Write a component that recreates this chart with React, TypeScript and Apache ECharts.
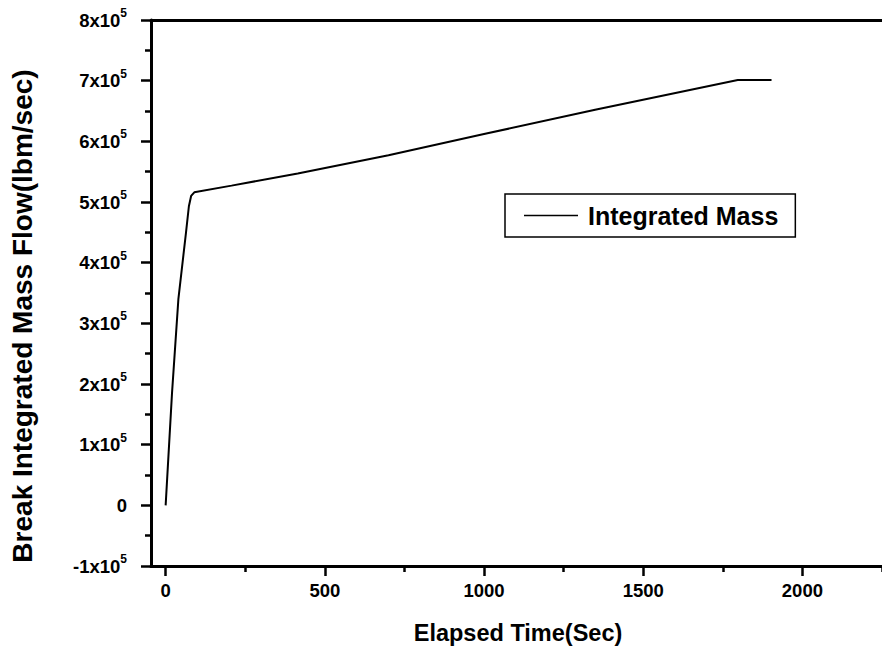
import React, { useEffect, useRef } from "react";
import * as echarts from "echarts";

// Data
const timeSec = [0, 20, 40, 64, 73, 80, 90, 207, 415, 700, 1000, 1349, 1797, 1903];
const integratedMass = [0, 185000, 340000, 450000, 493000, 510000, 516000, 527000, 547000, 577000, 612000, 652000, 701000, 701000];

const xMajorTicks = [0, 500, 1000, 1500, 2000];
const xMinorTicks = [250, 750, 1250, 1750, 2250];
const yMin = -100000;
const yMax = 800000;
const yStep = 100000;
const seriesName = "Integrated Mass";
const xTitle = "Elapsed Time(Sec)";
const yTitle = "Break Integrated Mass Flow(lbm/sec)";

export default function App() {
  const ref = useRef<HTMLDivElement>(null);
  useEffect(() => {
    const chart = echarts.init(ref.current!, null, { renderer: "svg" });
    const font = "'Liberation Sans', Arial, Helvetica, sans-serif";
    const xMin = -46;
    const xMax = 2250;
    const black = "#000";
    const tickStyle = { color: black, width: 2.5 };
    chart.setOption({
      animation: false,
      backgroundColor: "#fff",
      textStyle: { fontFamily: font, color: black },
      grid: { left: 151, top: 20, width: 737, height: 546 },
      legend: {
        left: 505,
        top: 194,
        orient: "horizontal",
        borderColor: black,
        borderWidth: 1.5,
        padding: [9, 17, 9, 19],
        icon: "rect",
        itemWidth: 54,
        itemHeight: 1.6,
        textStyle: { fontSize: 25, fontWeight: "bold", fontFamily: font, color: black, padding: [0, 0, 0, 5] },
        data: [seriesName],
      },
      xAxis: [
        {
          type: "value",
          position: "bottom",
          min: xMin,
          max: xMax,
          axisLine: { show: true, onZero: false, lineStyle: { color: black, width: 3 } },
          axisTick: { show: true, customValues: xMajorTicks, length: 10, lineStyle: tickStyle },
          axisLabel: {
            customValues: xMajorTicks,
            margin: 15,
            fontSize: 18.5,
            fontWeight: "bold",
            color: black,
            fontFamily: font,
            formatter: (v: number) => String(v),
          },
          splitLine: { show: false },
        },
        {
          type: "value",
          position: "bottom",
          min: xMin,
          max: xMax,
          axisLine: { show: false, onZero: false },
          axisTick: { show: true, customValues: xMinorTicks, length: 6, lineStyle: tickStyle },
          axisLabel: { show: false },
          splitLine: { show: false },
        },
        {
          type: "value",
          position: "top",
          min: xMin,
          max: xMax,
          axisLine: { show: true, onZero: false, lineStyle: { color: black, width: 3 } },
          axisTick: { show: false },
          axisLabel: { show: false },
          splitLine: { show: false },
        },
      ],
      yAxis: {
        type: "value",
        min: yMin,
        max: yMax,
        interval: yStep,
        axisLine: { show: true, onZero: false, lineStyle: { color: black, width: 3 } },
        axisTick: { show: true, length: 10, lineStyle: tickStyle },
        minorTick: { show: true, splitNumber: 2, length: 6, lineStyle: tickStyle },
        splitLine: { show: false },
        axisLabel: {
          margin: 24,
          fontSize: 18.5,
          fontWeight: "bold",
          formatter: (v: number) => (v === 0 ? "{b|0}" : `{b|${Math.round(v / 100000)}x10}{s|5}`),
          rich: {
            b: { fontSize: 18.5, fontWeight: "bold", lineHeight: 26, fontFamily: font, color: black },
            s: { fontSize: 12, fontWeight: "bold", lineHeight: 12, verticalAlign: "top", fontFamily: font, color: black },
          },
        },
      },
      series: [
        {
          type: "line",
          name: seriesName,
          xAxisIndex: 0,
          yAxisIndex: 0,
          data: timeSec.map((t, i) => [t, integratedMass[i]]),
          symbol: "none",
          smooth: false,
          lineStyle: { color: black, width: 2 },
          itemStyle: { color: black },
        },
      ],
      graphic: [
        {
          type: "text",
          x: 518,
          y: 633,
          style: {
            text: xTitle,
            fontSize: 23.5,
            fontWeight: "bold",
            fontFamily: font,
            fill: black,
            textAlign: "center",
            textVerticalAlign: "middle",
          },
        },
        {
          type: "text",
          x: 22,
          y: 316,
          rotation: Math.PI / 2,
          style: {
            text: yTitle,
            fontSize: 28,
            fontWeight: "bold",
            fontFamily: font,
            fill: black,
            textAlign: "center",
            textVerticalAlign: "middle",
          },
        },
      ],
    });
    return () => chart.dispose();
  }, []);
  return <div ref={ref} style={{ position: "fixed", left: 0, top: 0, width: 882, height: 655 }} />;
}
